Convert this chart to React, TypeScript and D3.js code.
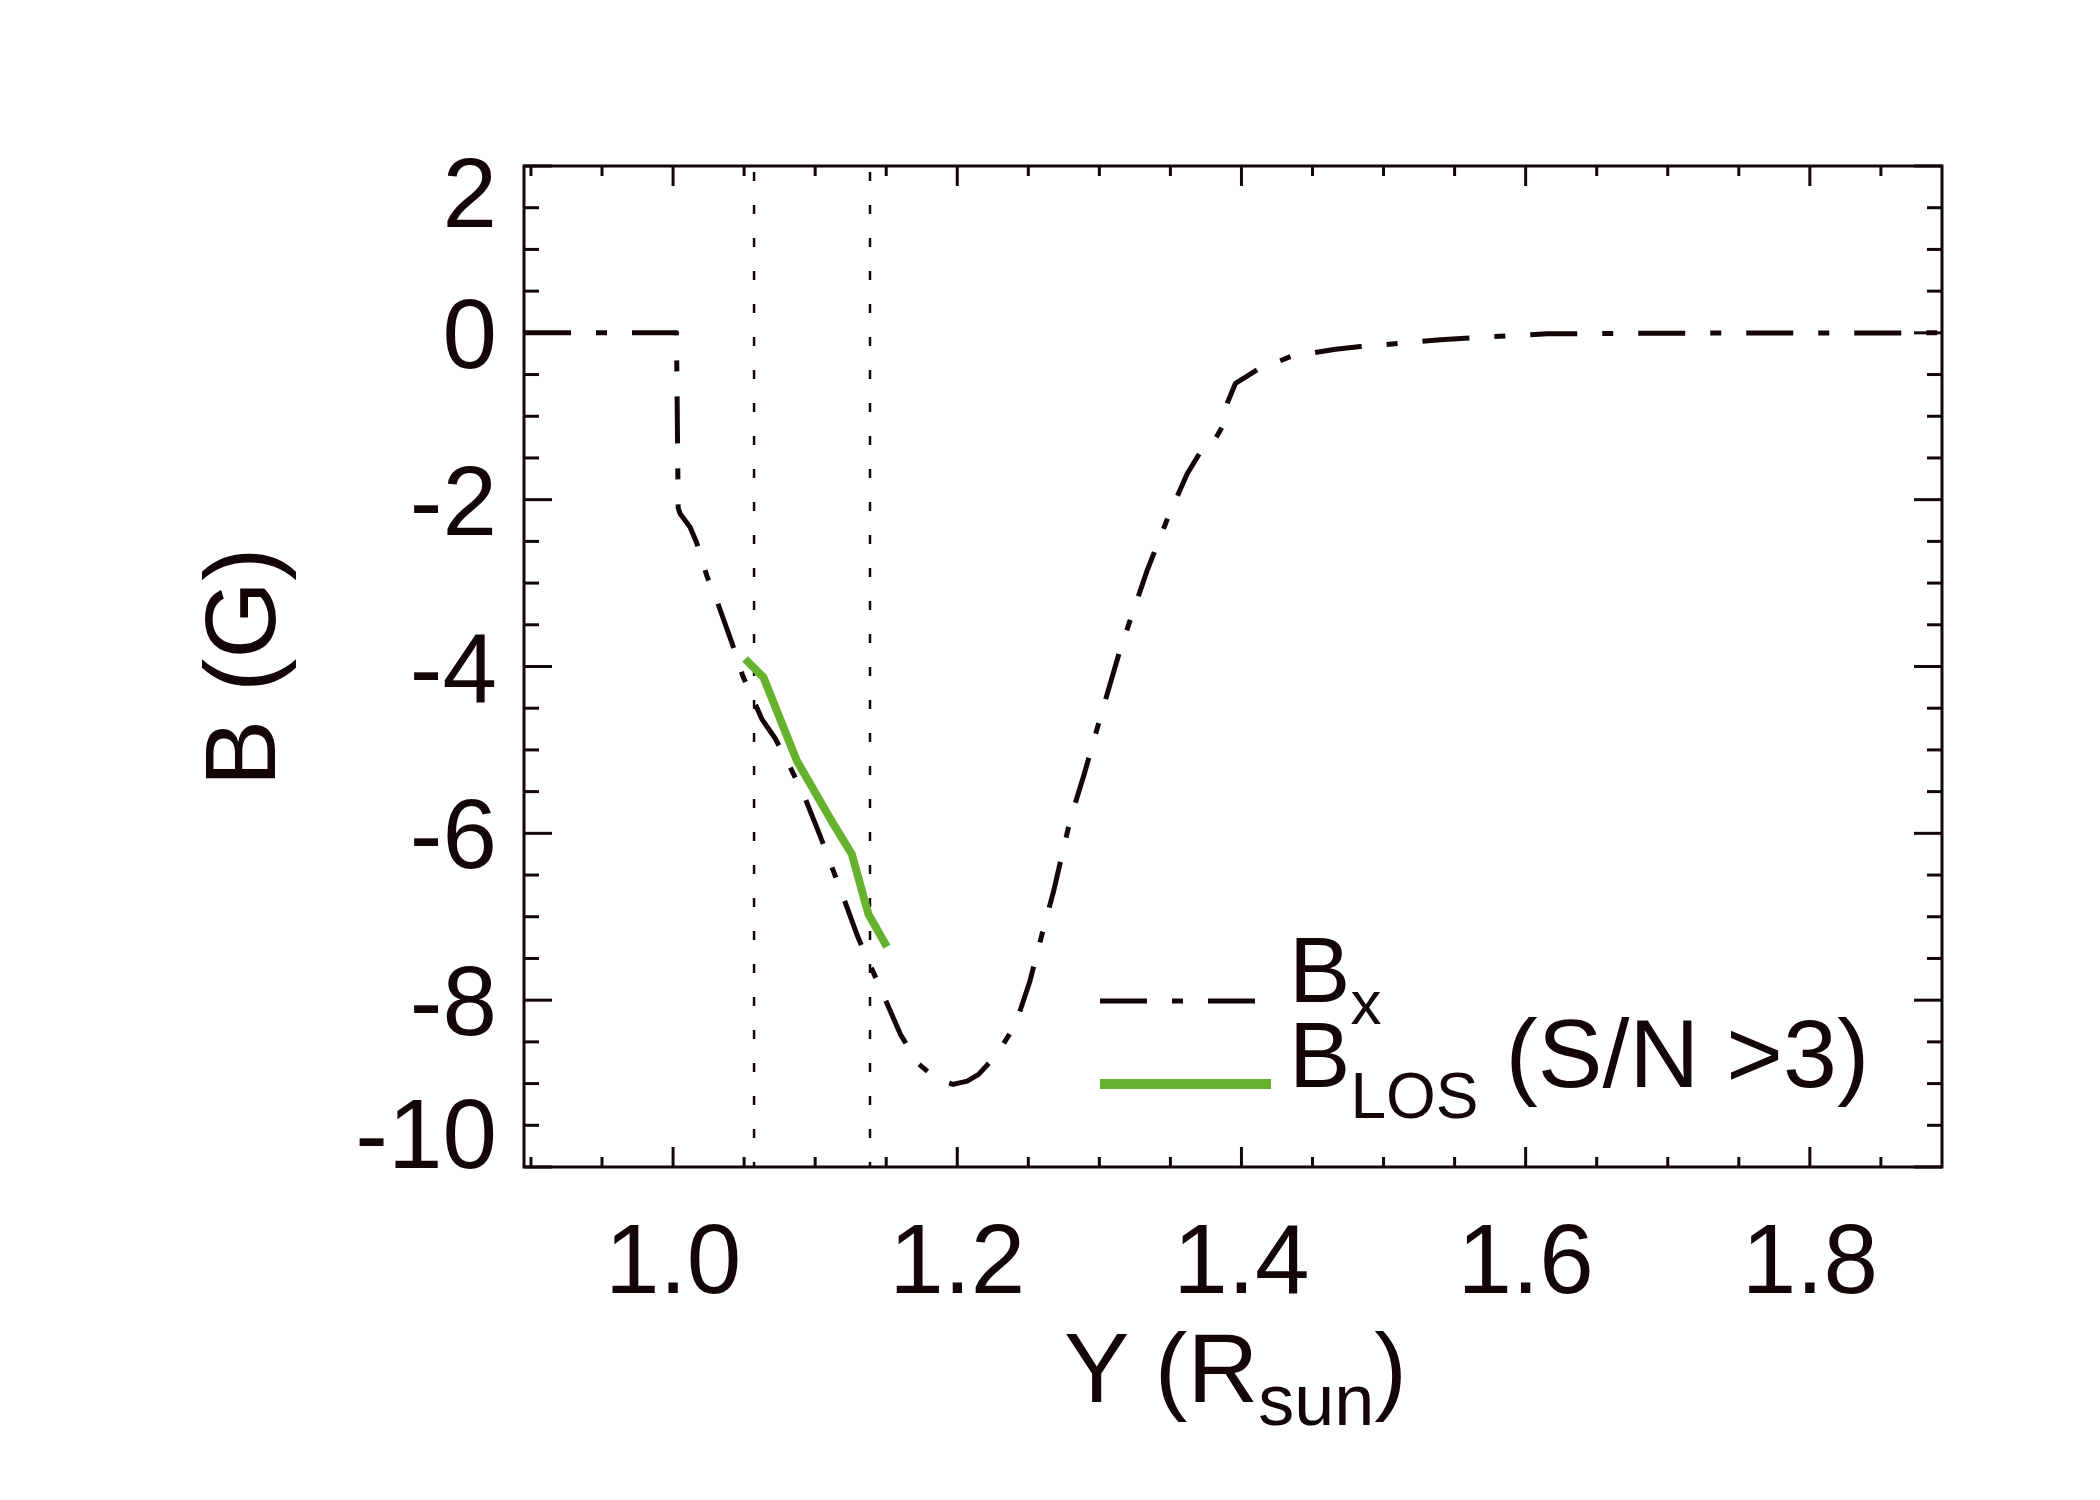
import React from "react";
import * as d3 from "d3";

// Bx profile (Y in R_sun, B in G)
const bxY = [
  0.8951, 1.0024, 1.0036, 1.005, 1.012, 1.0167, 1.0237, 1.0308, 1.0413, 1.049,
  1.056, 1.0625, 1.0718, 1.081, 1.0915, 1.1035, 1.1188, 1.13, 1.14, 1.147,
  1.16, 1.1725, 1.186, 1.197, 1.207, 1.215, 1.228, 1.241, 1.251, 1.257,
  1.268, 1.2796, 1.289, 1.3007, 1.3148, 1.3336, 1.3488, 1.3618, 1.3711, 1.3782,
  1.3864, 1.39, 1.3958, 1.411, 1.4345, 1.4662, 1.4838, 1.54, 1.5648, 1.615,
  1.688, 1.893,
];
const bxB = [
  0, 0, -2.1, -2.17, -2.33, -2.52, -2.91, -3.21, -3.71, -4.11,
  -4.38, -4.63, -4.86, -5.16, -5.52, -6.03, -6.72, -7.24, -7.63, -7.9,
  -8.41, -8.76, -8.95, -9.01, -8.97, -8.89, -8.65, -8.29, -7.78, -7.38,
  -6.68, -5.83, -5.31, -4.61, -3.79, -2.85, -2.19, -1.69, -1.43, -1.37,
  -1.13, -0.845, -0.605, -0.445, -0.285, -0.196, -0.165, -0.084, -0.056, -0.012,
  -0.004, 0,
];

// B_LOS where S/N > 3
const losY = [1.0507, 1.0636, 1.0871, 1.1129, 1.1258, 1.1375, 1.1505];
const losB = [-3.91, -4.13, -5.13, -5.89, -6.25, -6.97, -7.36];

// vertical dotted markers
const markerY = [1.057, 1.1386];

const xTickLabels = [1.0, 1.2, 1.4, 1.6, 1.8];
const yTickLabels = [2, 0, -2, -4, -6, -8, -10];

const INK = "#140606";
const GREEN = "#66b22e";
const FONT = "'Liberation Sans', Arial, Helvetica, sans-serif";

const left = 524;
const right = 1942;
const top = 166;
const bottom = 1167;

export default function App() {
  const x = d3.scaleLinear().domain([0.8951, 1.893]).range([left, right]);
  const y = d3.scaleLinear().domain([-10, 2]).range([bottom, top]);

  const line = d3
    .line<[number, number]>()
    .x((d) => x(d[0]))
    .y((d) => y(d[1]));

  const bx = bxY.map((v, i) => [v, bxB[i]] as [number, number]);
  const los = losY.map((v, i) => [v, losB[i]] as [number, number]);

  const xMinor = d3.range(0.9, 1.8951, 0.05).filter((v) => v < 1.893);
  const xMajor = new Set(xTickLabels.map((v) => v.toFixed(2)));
  const yMinor = d3.range(-10, 2.01, 0.5);

  const ticks: React.ReactNode[] = [];
  xMinor.forEach((v, i) => {
    const len = xMajor.has(v.toFixed(2)) ? 20 : 10;
    const px = x(v);
    ticks.push(
      <line key={"xb" + i} x1={px} x2={px} y1={bottom} y2={bottom - len} />,
      <line key={"xt" + i} x1={px} x2={px} y1={top} y2={top + len} />
    );
  });
  yMinor.forEach((v, i) => {
    const len = Math.abs(v % 2) < 1e-6 ? 28 : 15;
    const py = y(v);
    ticks.push(
      <line key={"yl" + i} x1={left} x2={left + len} y1={py} y2={py} />,
      <line key={"yr" + i} x1={right} x2={right - len} y1={py} y2={py} />
    );
  });

  const yLabelDy = (v: number) => (v === 2 ? 61 : v === -10 ? 1 : 35);

  return (
    <svg
      width={2100}
      height={1500}
      style={{ position: "absolute", left: 0, top: 0, background: "#fff" }}
      fontFamily={FONT}
    >
      <rect width={2100} height={1500} fill="#fff" />

      {/* dotted markers */}
      {markerY.map((v, i) => (
        <line
          key={"m" + i}
          x1={x(v)}
          x2={x(v)}
          y1={top}
          y2={bottom}
          stroke={INK}
          strokeWidth={2.5}
          strokeDasharray="9 24"
          strokeDashoffset={-6}
        />
      ))}

      {/* Bx curve */}
      <path
        d={line(bx) || ""}
        fill="none"
        stroke={INK}
        strokeWidth={5}
        strokeDasharray="47 25 11 25"
        strokeLinejoin="round"
      />

      {/* B_LOS */}
      <path
        d={line(los) || ""}
        fill="none"
        stroke={GREEN}
        strokeWidth={8}
        strokeLinejoin="miter"
      />

      {/* frame and ticks */}
      <g stroke={INK} strokeWidth={3}>
        {ticks}
        <rect
          x={left}
          y={top}
          width={right - left}
          height={bottom - top}
          fill="none"
        />
      </g>

      {/* tick labels */}
      <g fill={INK} fontSize={98}>
        {xTickLabels.map((v) => (
          <text key={"xl" + v} x={x(v)} y={1293} textAnchor="middle">
            {v.toFixed(1)}
          </text>
        ))}
        {yTickLabels.map((v) => (
          <text key={"yl" + v} x={497} y={y(v) + yLabelDy(v)} textAnchor="end">
            {v}
          </text>
        ))}
      </g>

      {/* axis titles */}
      <text x={1064} y={1402} fontSize={98} fill={INK}>
        Y (R
        <tspan dy={23} fontSize={72}>
          sun
        </tspan>
        <tspan dy={-23} fontSize={98}>
          )
        </tspan>
      </text>
      <text
        transform="translate(275,667) rotate(-90)"
        textAnchor="middle"
        fontSize={100}
        fill={INK}
      >
        B (G)
      </text>

      {/* legend */}
      <line
        x1={1100}
        x2={1255}
        y1={1001}
        y2={1001}
        stroke={INK}
        strokeWidth={5}
        strokeDasharray="47 25 11 25"
      />
      <line x1={1100} x2={1271} y1={1084} y2={1084} stroke={GREEN} strokeWidth={10} />
      <text x={1289} y={1002} fontSize={92} fill={INK}>
        B
        <tspan dy={22} fontSize={62}>
          x
        </tspan>
      </text>
      <text x={1289} y={1087} fontSize={92} fill={INK}>
        B
        <tspan dy={31} fontSize={64}>
          LOS
        </tspan>
        <tspan dy={-31} fontSize={97}>
          {" (S/N >3)"}
        </tspan>
      </text>
    </svg>
  );
}
